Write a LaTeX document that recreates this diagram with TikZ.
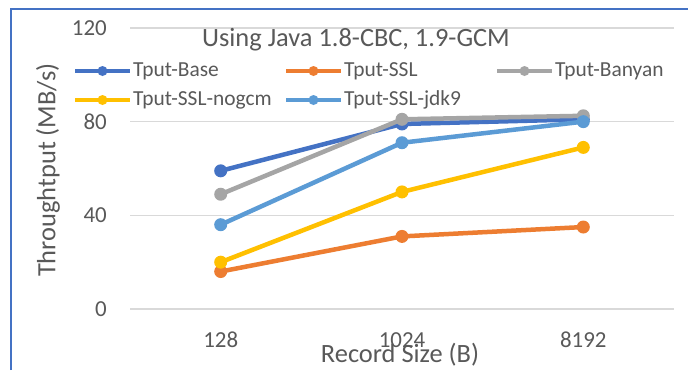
\documentclass[tikz,border=0pt]{standalone}
\usepackage{fontspec}
\setmainfont{Carlito}
\definecolor{cBase}{HTML}{4472C4}
\definecolor{cSSL}{HTML}{ED7D31}
\definecolor{cBan}{HTML}{A5A5A5}
\definecolor{cNog}{HTML}{FFC000}
\definecolor{cJdk}{HTML}{5B9BD5}
\definecolor{cGrid}{HTML}{D9D9D9}
\definecolor{cText}{HTML}{595959}
\tikzset{
  grid line/.style={draw=cGrid, line width=1.5bp},
  series/.style={line width=4.5bp, line join=round},
  dot/.style={circle, fill=#1, inner sep=0pt, minimum size=13bp},
  legline/.style={line width=4bp},
  legdot/.style={circle, fill=#1, inner sep=0pt, minimum size=10bp},
  ticklbl/.style={text=cText, font=\fontsize{23}{25}\selectfont, inner sep=0pt},
  legtxt/.style={text=cText, font=\fontsize{21.5}{23}\selectfont, inner sep=0pt, anchor=west},
  bigtxt/.style={text=cText, font=\fontsize{26.5}{28}\selectfont, inner sep=0pt},
}
\begin{document}
\begin{tikzpicture}[x=1bp, y=-1bp]
\useasboundingbox (0,0) rectangle (688,370);
\fill[white] (0,0) rectangle (688,370);
% border
\draw[cBase, line width=2bp] (11,370) -- (11,9) -- (688,9);
% gridlines
\foreach \v/\yy in {0/309, 40/215.3, 80/121.7, 120/28} {
  \draw[grid line] (130,\yy) -- (674,\yy);
  \node[ticklbl, anchor=east] (t\v) at (107,\yy) {\v};
}
% x tick labels
\node[ticklbl] (x1) at (220.7,340) {128};
\node[ticklbl] (x2) at (402,340) {1024};
\node[ticklbl] (x3) at (583.3,340) {8192};
% axis titles
\node[bigtxt] (ytitle) at (48,170) [rotate=90] {Throughtput (MB/s)};
\node[bigtxt, anchor=base] (xtitle) at (400,362) {Record Size (B)};
\node[bigtxt, anchor=base] (title) at (356,46) {Using Java 1.8-CBC, 1.9-GCM};
% data
\def\Y#1{309-2.342*#1}
\foreach \s/\a/\b/\c in {base/59/79/81, ssl/16/31/35, ban/49/81/82.5, nog/20/50/69, jdk/36/71/80} {
  \coordinate (\s1) at (220.7,{\Y{\a}});
  \coordinate (\s2) at (402,{\Y{\b}});
  \coordinate (\s3) at (583.3,{\Y{\c}});
}
\foreach \s/\col in {base/cBase, ssl/cSSL, ban/cBan, nog/cNog, jdk/cJdk} {
  \draw[series, \col] (\s1) -- (\s2) -- (\s3);
  \node[dot=\col] (\s p1) at (\s1) {};
  \node[dot=\col] (\s p2) at (\s2) {};
  \node[dot=\col] (\s p3) at (\s3) {};
}
% legend
\foreach \n/\col/\x/\yy/\txt in {lbase/cBase/75/71/Tput-Base, lssl/cSSL/286/71/Tput-SSL, lban/cBan/497/71/Tput-Banyan, lnog/cNog/75/100/Tput-SSL-nogcm, ljdk/cJdk/286/100/Tput-SSL-jdk9} {
  \coordinate (\n a) at (\x,\yy);
  \coordinate (\n b) at (\x+55,\yy);
  \draw[legline, \col] (\n a) -- (\n b);
  \node[legdot=\col] (\n d) at (\x+27.5,\yy) {};
  \node[legtxt] (\n t) at (\x+58,\yy) {\txt};
}
\end{tikzpicture}
\end{document}
